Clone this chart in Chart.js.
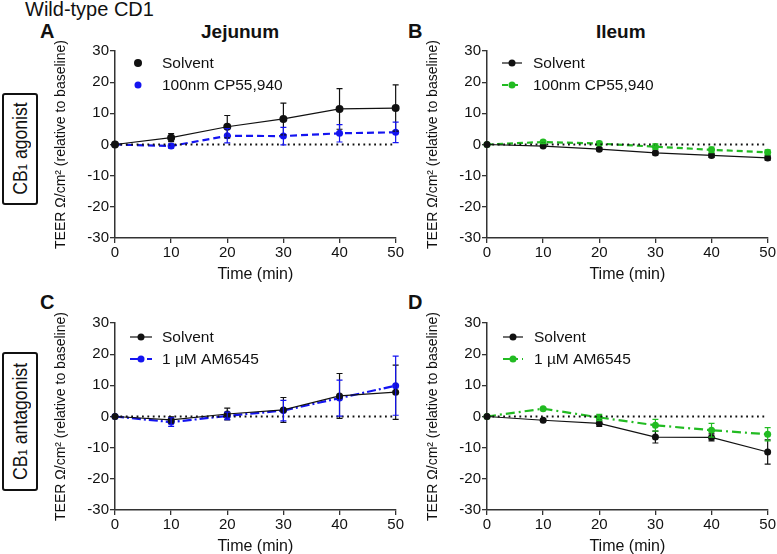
<!DOCTYPE html>
<html>
<head>
<meta charset="utf-8">
<script src="https://cdn.jsdelivr.net/npm/chart.js@4.4.1/dist/chart.umd.min.js"></script>
<style>
  html, body { margin:0; padding:0; background:#fff; overflow:hidden; }
  #wrap { position:relative; width:777px; height:554px; font-family:"Liberation Sans", Arial, sans-serif; color:#111; }
  canvas { position:absolute; }
  .lbl { position:absolute; white-space:nowrap; line-height:1; }
  .bold { font-weight:bold; }
  .box { position:absolute; border:2px solid #111; border-radius:3px; box-sizing:border-box; display:flex; align-items:center; justify-content:center; overflow:hidden; }
  .box span { writing-mode:vertical-rl; transform:rotate(180deg) scaleY(0.88); font-size:20px; white-space:nowrap; line-height:1; }
  .box sub { font-size:13px; vertical-align:-3px; }
</style>
</head>
<body>
<div id="wrap">
  <div class="lbl" style="left:25px;top:-1px;font-size:20px;">Wild-type CD1</div>
  <div class="lbl bold" style="left:40px;top:21px;font-size:20px;">A</div>
  <div class="lbl bold" style="left:201px;top:22px;font-size:19px;">Jejunum</div>
  <div class="lbl bold" style="left:408px;top:21px;font-size:20px;">B</div>
  <div class="lbl bold" style="left:596px;top:22px;font-size:19px;">Ileum</div>
  <div class="lbl bold" style="left:40px;top:292px;font-size:20px;">C</div>
  <div class="lbl bold" style="left:408px;top:292px;font-size:20px;">D</div>
  <div class="box" style="left:2px;top:93px;width:36px;height:112px;"><span>CB<sub>1</sub> agonist</span></div>
  <div class="box" style="left:2px;top:352px;width:36px;height:139px;"><span>CB<sub>1</sub> antagonist</span></div>
  <canvas id="cA" width="365" height="245" style="left:40px;top:40px;"></canvas>
  <canvas id="cB" width="365" height="245" style="left:412px;top:40px;"></canvas>
  <canvas id="cC" width="365" height="245" style="left:40px;top:312px;"></canvas>
  <canvas id="cD" width="365" height="245" style="left:412px;top:312px;"></canvas>
</div>
<script>
// ---- Data ----
const timeMin = [0, 10, 20, 30, 40, 50];
const xTicks = [0, 10, 20, 30, 40, 50];
const yTicks = [-30, -20, -10, 0, 10, 20, 30];

// A: Jejunum, CB1 agonist
const jejAgoSolvent     = [0, 2.2, 5.7, 8.2, 11.4, 11.7];
const jejAgoSolventSem  = [0, 1.3, 3.6, 5.1, 6.5, 7.4];
const jejAgoCP          = [0, -0.5, 2.8, 2.7, 3.6, 3.9];
const jejAgoCPSem       = [0, 0.7, 2.3, 2.8, 2.8, 3.3];
// B: Ileum, CB1 agonist
const ileAgoSolvent     = [0, -0.5, -1.5, -2.7, -3.5, -4.3];
const ileAgoSolventSem  = [0, 0.4, 0.5, 0.6, 0.6, 0.7];
const ileAgoCP          = [0, 0.8, 0.3, -0.7, -1.7, -2.5];
const ileAgoCPSem       = [0, 0.5, 0.7, 0.9, 0.9, 0.8];
// C: Jejunum, CB1 antagonist
const jejAntSolvent     = [0, -1.1, 0.8, 2.1, 6.6, 7.8];
const jejAntSolventSem  = [0, 1.0, 1.9, 4.0, 7.2, 8.7];
const jejAntAM          = [0, -1.8, 0.2, 1.9, 5.9, 9.9];
const jejAntAMSem       = [0, 1.4, 1.2, 3.3, 5.8, 9.5];
// D: Ileum, CB1 antagonist
const ileAntSolvent     = [0, -1.2, -2.2, -6.6, -6.7, -11.4];
const ileAntSolventSem  = [0, 0.4, 1.0, 1.9, 1.1, 3.9];
const ileAntAM          = [0, 2.5, -0.3, -2.8, -4.4, -5.7];
const ileAntAMSem       = [0, 0.3, 1.0, 1.9, 2.2, 2.1];

const labelSolvent = 'Solvent';
const labelCP = '100nm CP55,940';
const labelAM = '1 \u00B5M AM6545';

const BLACK = '#111111';
const BLUE = '#1414f0';
const GREEN = '#22bb22';
const FONT = '"Liberation Sans", Arial, sans-serif';

function pts(ys) { return timeMin.map((t, i) => ({ x: t, y: ys[i] })); }

function series(label, ys, sem, color, dash, width, radius) {
  return {
    label, data: pts(ys), errs: sem,
    borderColor: color, backgroundColor: color,
    pointBackgroundColor: color, pointBorderColor: color,
    borderWidth: width, borderDash: dash,
    pointRadius: radius, pointHoverRadius: radius, pointBorderWidth: 0,
    tension: 0, clip: false
  };
}
function zeroLine() {
  return {
    label: '_zero', data: [{ x: xTicks[0], y: 0 }, { x: xTicks[xTicks.length - 1], y: 0 }],
    borderColor: BLACK, borderWidth: 1.8, borderDash: [1.8, 3.6],
    pointRadius: 0, tension: 0, clip: false, legendSkip: true
  };
}

const errorBars = {
  id: 'errorBars',
  afterDatasetsDraw(chart) {
    const ctx = chart.ctx, xs = chart.scales.x, ys = chart.scales.y;
    chart.data.datasets.forEach((ds) => {
      if (!ds.errs) return;
      ctx.save();
      ctx.strokeStyle = ds.borderColor;
      ctx.lineWidth = 1.2;
      ctx.setLineDash([]);
      ds.data.forEach((p, i) => {
        const e = ds.errs[i];
        if (!e) return;
        const px = xs.getPixelForValue(p.x);
        const y1 = ys.getPixelForValue(p.y + e);
        const y2 = ys.getPixelForValue(p.y - e);
        ctx.beginPath();
        ctx.moveTo(px, y1); ctx.lineTo(px, y2);
        ctx.moveTo(px - 3, y1); ctx.lineTo(px + 3, y1);
        ctx.moveTo(px - 3, y2); ctx.lineTo(px + 3, y2);
        ctx.stroke();
      });
      ctx.restore();
    });
  }
};

const customLegend = {
  id: 'customLegend',
  afterDraw(chart, args, opts) {
    const ctx = chart.ctx, ca = chart.chartArea;
    ctx.save();
    chart.data.datasets.filter(d => !d.legendSkip).forEach((ds, i) => {
      const y = ca.top + opts.y0 + i * opts.rowH;
      const x0 = ca.left + opts.x0, x1 = x0 + opts.lineLen;
      if (opts.showLine) {
        ctx.strokeStyle = ds.borderColor;
        ctx.lineWidth = ds.borderWidth;
        ctx.setLineDash(ds.borderDash || []);
        ctx.beginPath(); ctx.moveTo(x0, y); ctx.lineTo(x1, y); ctx.stroke();
      }
      ctx.setLineDash([]);
      ctx.fillStyle = ds.pointBackgroundColor;
      ctx.beginPath(); ctx.arc((x0 + x1) / 2, y, ds.pointRadius, 0, Math.PI * 2); ctx.fill();
      ctx.fillStyle = BLACK;
      ctx.font = '15.5px ' + FONT;
      ctx.textBaseline = 'middle';
      ctx.textAlign = 'left';
      ctx.fillText(ds.label, ca.left + opts.textX, y + 1);
    });
    ctx.restore();
  }
};

function makeChart(id, datasets, legendOpts) {
  const axisColor = '#333';
  new Chart(document.getElementById(id), {
    type: 'line',
    data: { datasets: [zeroLine(), ...datasets] },
    plugins: [errorBars, customLegend],
    options: {
      responsive: false, animation: false, devicePixelRatio: 1,
      layout: { padding: { left: 0, right: 9, top: 11, bottom: 0 } },
      plugins: { legend: { display: false }, tooltip: { enabled: false }, customLegend: legendOpts },
      scales: {
        x: {
          type: 'linear', min: xTicks[0], max: xTicks[xTicks.length - 1],
          afterBuildTicks: (s) => { s.ticks = xTicks.map(v => ({ value: v })); },
          afterFit: (s) => { s.height = 47; },
          grid: { drawOnChartArea: false, drawTicks: true, tickLength: 5, color: axisColor, lineWidth: 1.3 },
          border: { display: true, color: axisColor, width: 1.5 },
          ticks: { font: { family: FONT, size: 15 }, color: BLACK, padding: 1, maxRotation: 0 },
          title: { display: true, text: 'Time (min)', font: { family: FONT, size: 16 }, color: BLACK, padding: { top: 0, bottom: 1 } }
        },
        y: {
          type: 'linear', min: yTicks[0], max: yTicks[yTicks.length - 1],
          afterBuildTicks: (s) => { s.ticks = yTicks.map(v => ({ value: v })); },
          afterFit: (s) => { s.width = 75; },
          grid: { drawOnChartArea: false, drawTicks: true, tickLength: 5, color: axisColor, lineWidth: 1.3 },
          border: { display: true, color: axisColor, width: 1.5 },
          ticks: { font: { family: FONT, size: 15 }, color: BLACK, padding: 1 },
          title: { display: true, text: 'TEER \u03A9/cm\u00B2 (relative to baseline)', font: { family: FONT, size: 14 }, color: BLACK, padding: { top: 13, bottom: 0 } }
        }
      }
    }
  });
}

makeChart('cA', [
  series(labelSolvent, jejAgoSolvent, jejAgoSolventSem, BLACK, [], 1.2, 4),
  series(labelCP, jejAgoCP, jejAgoCPSem, BLUE, [7, 4], 2.2, 3.5)
], { x0: 18, lineLen: 10, textX: 47, y0: 12, rowH: 22, showLine: false });

makeChart('cB', [
  series(labelSolvent, ileAgoSolvent, ileAgoSolventSem, BLACK, [], 1.2, 3.5),
  series(labelCP, ileAgoCP, ileAgoCPSem, GREEN, [6, 4], 2.2, 3.5)
], { x0: 15, lineLen: 20, textX: 46, y0: 12, rowH: 22, showLine: true });

makeChart('cC', [
  series(labelSolvent, jejAntSolvent, jejAntSolventSem, BLACK, [], 1.2, 3.5),
  series(labelAM, jejAntAM, jejAntAMSem, BLUE, [9, 3, 2, 3], 2.2, 3.5)
], { x0: 15, lineLen: 22, textX: 47, y0: 14, rowH: 22, showLine: true });

makeChart('cD', [
  series(labelSolvent, ileAntSolvent, ileAntSolventSem, BLACK, [], 1.2, 3.5),
  series(labelAM, ileAntAM, ileAntAMSem, GREEN, [9, 4, 2, 4], 2.2, 3.5)
], { x0: 16, lineLen: 20, textX: 47, y0: 14, rowH: 22, showLine: true });
</script>
</body>
</html>
